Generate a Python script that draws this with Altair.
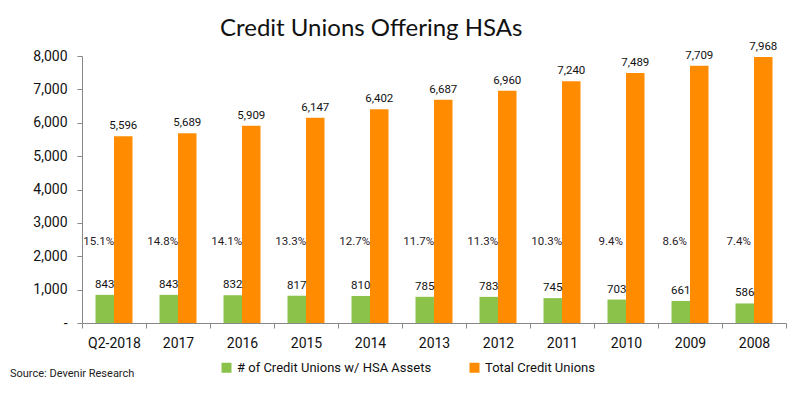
import altair as alt
import pandas as pd

years = ["Q2-2018", "2017", "2016", "2015", "2014", "2013", "2012", "2011", "2010", "2009", "2008"]
hsa_counts = [843, 843, 832, 817, 810, 785, 783, 745, 703, 661, 586]
total_counts = [5596, 5689, 5909, 6147, 6402, 6687, 6960, 7240, 7489, 7709, 7968]
pct_labels = ["15.1%", "14.8%", "14.1%", "13.3%", "12.7%", "11.7%", "11.3%", "10.3%", "9.4%", "8.6%", "7.4%"]
series_names = ["# of Credit Unions w/ HSA Assets", "Total Credit Unions"]
series_colors = ["#8BC34A", "#FF8C00"]
y_ticks = [0, 1000, 2000, 3000, 4000, 5000, 6000, 7000, 8000]

rows = []
for i, yr in enumerate(years):
    rows.append({"year": yr, "series": series_names[0], "value": hsa_counts[i], "pct": pct_labels[i]})
    rows.append({"year": yr, "series": series_names[1], "value": total_counts[i], "pct": pct_labels[i]})
df = pd.DataFrame(rows)
df_hsa = df[df["series"] == series_names[0]]

FONT = "Roboto"

x_enc = alt.X("year:N", sort=years, title=None,
              scale=alt.Scale(paddingInner=0, paddingOuter=0),
              axis=alt.Axis(labelAngle=0, labelFont=FONT, labelFontSize=14, labelColor="#111",
                            domainColor="#888", tickColor="#888", tickSize=5, tickBand="extent",
                            labelPadding=8, grid=False))
xoff = alt.XOffset("series:N", sort=series_names,
                   scale=alt.Scale(paddingInner=0, paddingOuter=0.73))
y_axis = alt.Axis(values=y_ticks, labelFont=FONT, labelFontSize=14, labelColor="#111",
                  domainColor="#888", tickColor="#888", tickSize=5, labelPadding=10,
                  grid=False, labelOverlap=False,
                  labelExpr="datum.value == 0 ? '-' : format(datum.value, ',')")
y_scale = alt.Scale(domain=[0, 8000], nice=False)
y_enc = alt.Y("value:Q", title=None, scale=y_scale, axis=y_axis)

bars = alt.Chart(df).mark_bar().encode(
    x=x_enc, xOffset=xoff, y=y_enc,
    color=alt.Color("series:N", sort=series_names,
                    scale=alt.Scale(domain=series_names, range=series_colors),
                    legend=alt.Legend(title=None, orient="none", legendX=138, legendY=305,
                                      direction="horizontal", symbolType="square", symbolSize=100,
                                      labelFont=FONT, labelFontSize=13, labelColor="#111",
                                      labelLimit=400, columnPadding=36, symbolStrokeWidth=0,
                                      labelOffset=4)),
)

value_labels = alt.Chart(df).mark_text(baseline="bottom", dy=-5, font=FONT, fontSize=11.5, color="#111").encode(
    x=alt.X("year:N", sort=years), xOffset=xoff,
    y=y_enc,
    text=alt.Text("value:Q", format=","),
)

pct_text = alt.Chart(df_hsa).mark_text(font=FONT, fontSize=11.5, color="#2a1a2a", dx=-6).encode(
    x=alt.X("year:N", sort=years), xOffset=xoff,
    y=alt.YDatum(2420, type="quantitative", title=None, scale=y_scale, axis=y_axis),
    text="pct:N",
)

source = alt.Chart(pd.DataFrame({"t": ["Source: Devenir Research"]})).mark_text(
    align="left", baseline="middle", font=FONT, fontSize=11, color="#222"
).encode(x=alt.value(-72), y=alt.value(318), text="t:N")

chart = alt.layer(bars, value_labels, pct_text, source).properties(
    width=704, height=267,
    title=alt.Title("Credit Unions Offering HSAs", font="Lato", fontSize=24, fontWeight="normal",
                    color="#111", anchor="start", frame="group", dx=138, offset=0),
    autosize=alt.AutoSizeParams(type="none"),
    padding={"left": 74, "top": 48, "right": 14, "bottom": 62},
).configure_view(stroke=None)

chart.save("out.html", embed_options={"renderer": "svg", "actions": False})
